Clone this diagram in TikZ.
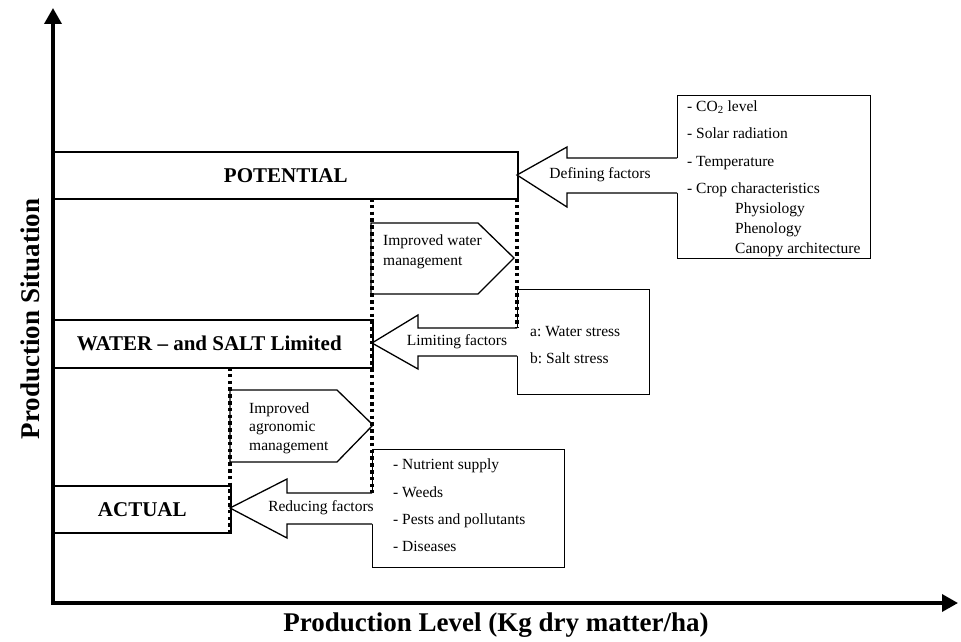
\documentclass[tikz,border=0pt]{standalone}
\usepackage{fontspec}
\setmainfont{Liberation Serif}
\usetikzlibrary{arrows.meta}
\frenchspacing
\begin{document}
\begin{tikzpicture}[x=1pt,y=-1pt,
  band/.style={draw, line width=1.6pt, fill=white, anchor=north west, inner sep=0pt,
    font=\fontsize{21}{24}\selectfont\bfseries},
  factorbox/.style={draw, line width=1.3pt, fill=white, anchor=north west, inner sep=0pt},
  blockarrow/.style={draw, line width=1.3pt, line join=miter},
  arrowfill/.style={fill=white},
  dots/.style={line width=3.6pt, dash pattern=on 3.6pt off 3.2pt},
  axisline/.style={line width=3.5pt, line join=miter,
    {Triangle[length=16pt,width=17pt]}-{Triangle[length=16pt,width=17pt]}},
  lab/.style={font=\fontsize{15.5}{18}\selectfont, inner sep=0pt},
  item/.style={lab, anchor=base west},
  axlab/.style={font=\fontsize{27}{30}\selectfont\bfseries, inner sep=0pt}]

\useasboundingbox (0,0) rectangle (961,642);

% bands
\node[band, minimum width=464pt, minimum height=47pt] (pot) at (53,151) {POTENTIAL};
\node[band, minimum width=319pt, minimum height=48pt] (wat) at (53,319) {\hspace*{-8pt}WATER -- and SALT Limited};
\node[band, minimum width=177pt, minimum height=47pt] (act) at (53,485) {ACTUAL};

% factor boxes
\node[factorbox, minimum width=193pt, minimum height=163pt] (defbox) at (677,95) {};
\node[factorbox, minimum width=132pt, minimum height=105pt] (limbox) at (517,289) {};
\node[factorbox, minimum width=192pt, minimum height=118pt] (redbox) at (372,449) {};

% defining factors arrow
\fill[arrowfill] (517,175) -- (567,147) -- (567,158) -- (679,158) -- (679,193) -- (567,193) -- (567,207) -- cycle;
\draw[blockarrow] (677,158) -- (567,158) -- (567,147) -- (517,175) -- (567,207) -- (567,193) -- (677,193);
\node[lab] (deflab) at (600,175) {Defining factors};

% limiting factors arrow
\fill[arrowfill] (372,343) -- (418,315) -- (418,328) -- (519,328) -- (519,356) -- (418,356) -- (418,369) -- cycle;
\draw[blockarrow] (517,328) -- (418,328) -- (418,315) -- (372,343) -- (418,369) -- (418,356) -- (517,356);
\node[lab] (limlab) at (457,342) {Limiting factors};

% reducing factors arrow
\fill[arrowfill] (230,508) -- (287,479) -- (287,493) -- (374,493) -- (374,524) -- (287,524) -- (287,538) -- cycle;
\draw[blockarrow] (372,493) -- (287,493) -- (287,479) -- (230,508) -- (287,538) -- (287,524) -- (372,524);
\node[lab] (redlab) at (321,508) {Reducing factors};

% improvement pentagons
\draw[blockarrow, fill=white] (371,223) -- (478,223) -- (514,258) -- (478,294) -- (371,294) -- cycle;
\node[lab, anchor=west, align=left, font=\fontsize{15.5}{20}\selectfont] (watman) at (383,252) {Improved water\\management};
\draw[blockarrow, fill=white] (230,390) -- (337,390) -- (373,425) -- (337,462) -- (230,462) -- cycle;
\node[lab, anchor=west, align=left, font=\fontsize{15.5}{18.5}\selectfont] (agrman) at (249,428) {Improved\\agronomic\\management};

% box texts
\node[item] (d1) at (687,111) {- CO\textsubscript{2} level};
\node[item] (d2) at (687,138) {- Solar radiation};
\node[item] (d3) at (687,166) {- Temperature};
\node[item] (d4) at (687,193) {- Crop characteristics};
\node[item] (d5) at (735,213) {Physiology};
\node[item] (d6) at (735,233) {Phenology};
\node[item] (d7) at (735,253) {Canopy architecture};

\node[item] (l1) at (530,336) {a: Water stress};
\node[item] (l2) at (530,363) {b: Salt stress};

\node[item] (r1) at (393,469) {- Nutrient supply};
\node[item] (r2) at (393,497) {- Weeds};
\node[item] (r3) at (393,524) {- Pests and pollutants};
\node[item] (r4) at (393,551) {- Diseases};

% dotted level lines
\draw[dots] (517,198) -- (517,328);
\draw[dots] (372,198) -- (372,493);
\draw[dots] (230,367) -- (230,532);

% axes
\coordinate (O) at (53,603);
\coordinate (ytip) at (53,8);
\coordinate (xtip) at (958,603);
\draw[axisline] (ytip) -- (O) -- (xtip);

\node[axlab, rotate=90] (ylab) at (30,319) {Production Situation};
\node[axlab] (xlab) at (496,625) {Production Level (Kg dry matter/ha)};
\end{tikzpicture}
\end{document}
